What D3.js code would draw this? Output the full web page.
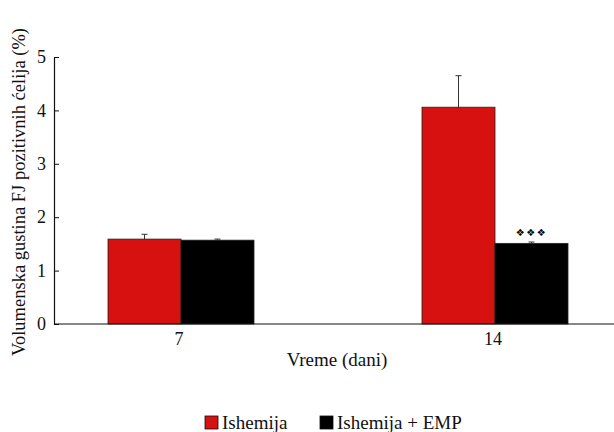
<!DOCTYPE html>
<html>
<head>
<meta charset="utf-8">
<script src="https://cdn.jsdelivr.net/npm/d3@7"></script>
</head>
<body style="margin:0">
<svg width="614" height="432" style="font-family: 'Liberation Serif', Tinos, 'Times New Roman', serif"></svg>
<script>
// Days after ischemia (x categories)
const days = ["7", "14"];
// Series names
const seriesNames = ["Ishemija", "Ishemija + EMP"];
// Mean volume density of FJ-positive cells (%)
const ishemija = [1.59, 4.06];
const ishemijaEmp = [1.57, 1.51];
// Upper error (SEM) values
const ishemijaErr = [0.09, 0.59];
const ishemijaEmpErr = [0.02, 0.025];
// Significance markers
const markers = ["", "❖❖❖"];
// Y axis ticks
const yTicks = [0, 1, 2, 3, 4, 5];

const colors = ["#d71010", "#000000"];

const svg = d3.select("svg");
const axisLeft = 54, axisRight = 614, yBottom = 324, yTop = 57;

const x = d3.scaleBand().domain(days).range([24, 652]).padding(0);
const xs = d3.scaleBand().domain(seriesNames).range([-73, 73]);
const y = d3.scaleLinear().domain([0, 5]).range([yBottom, yTop]);

const rows = days.map((d, i) => ({
  day: d,
  marker: markers[i],
  bars: [
    { s: seriesNames[0], v: ishemija[i], e: ishemijaErr[i], c: colors[0] },
    { s: seriesNames[1], v: ishemijaEmp[i], e: ishemijaEmpErr[i], c: colors[1] }
  ]
}));

// Y axis with inward ticks; labels inherit the serif face from the svg
const yAxis = svg.append("g")
  .attr("transform", `translate(${axisLeft},0)`)
  .call(d3.axisLeft(y).tickValues(yTicks).tickFormat(d3.format("d"))
    .tickSizeInner(-5).tickSizeOuter(0).tickPadding(8));
yAxis.attr("font-family", null).attr("font-size", 18);
yAxis.select(".domain").attr("stroke", "#111").attr("stroke-width", 1.2);
yAxis.selectAll(".tick line").attr("stroke", "#111");
yAxis.selectAll(".tick text").attr("fill", "#111");

// Bars
const groups = svg.append("g").selectAll("g").data(rows).join("g")
  .attr("transform", d => `translate(${x(d.day) + x.bandwidth() / 2},0)`);

groups.selectAll("rect.bar").data(d => d.bars).join("rect")
  .attr("class", "bar")
  .attr("x", b => xs(b.s))
  .attr("width", xs.bandwidth())
  .attr("y", b => y(b.v))
  .attr("height", b => y(0) - y(b.v))
  .attr("fill", b => b.c)
  .attr("stroke", "#222")
  .attr("stroke-width", 0.8);

// Error bars (upper only)
groups.selectAll("g.err").data(d => d.bars).join("g")
  .attr("class", "err")
  .each(function (b) {
    const cx = xs(b.s) + xs.bandwidth() / 2;
    const g = d3.select(this);
    g.append("line").attr("x1", cx).attr("x2", cx).attr("y1", y(b.v)).attr("y2", y(b.v + b.e))
      .attr("stroke", "#333").attr("stroke-width", 1);
    g.append("line").attr("x1", cx - 3).attr("x2", cx + 3).attr("y1", y(b.v + b.e)).attr("y2", y(b.v + b.e))
      .attr("stroke", "#333").attr("stroke-width", 1);
  });

// Significance markers above the EMP bar
groups.append("text")
  .attr("x", xs(seriesNames[1]) + xs.bandwidth() / 2)
  .attr("y", d => y(d.bars[1].v + d.bars[1].e) - 6)
  .attr("text-anchor", "middle")
  .attr("font-size", 10)
  .attr("letter-spacing", 1.5)
  .attr("fill", "#000")
  .style("font-family", "'DejaVu Sans'")
  .text(d => d.marker);

// X axis line and category labels
svg.append("line")
  .attr("x1", axisLeft).attr("x2", axisRight)
  .attr("y1", yBottom).attr("y2", yBottom)
  .attr("stroke", "#111").attr("stroke-width", 1.2);

svg.append("g").selectAll("text").data(days).join("text")
  .attr("x", d => x(d) + x.bandwidth() / 2 - 2)
  .attr("y", yBottom + 21)
  .attr("text-anchor", "middle")
  .attr("font-size", 18)
  .attr("fill", "#111")
  .text(d => d);

// Axis titles
svg.append("text")
  .attr("x", 337).attr("y", 366)
  .attr("text-anchor", "middle")
  .attr("font-size", 19)
  .attr("fill", "#111")
  .text("Vreme (dani)");

svg.append("text")
  .attr("transform", "translate(25,192) rotate(-90)")
  .attr("text-anchor", "middle")
  .attr("font-size", 18.5)
  .attr("fill", "#111")
  .text("Volumenska gustina FJ pozitivnih ćelija (%)");

// Legend
const legend = svg.append("g").attr("transform", "translate(205,416)");
const legendX = [0, 115];
seriesNames.forEach((s, i) => {
  const g = legend.append("g").attr("transform", `translate(${legendX[i]},0)`);
  g.append("rect").attr("x", 0).attr("y", 0).attr("width", 13).attr("height", 13)
    .attr("fill", colors[i]).attr("stroke", "#111").attr("stroke-width", 0.8);
  g.append("text").attr("x", 17).attr("y", 13)
    .attr("font-size", 19).attr("fill", "#111")
    .text(s);
});
</script>
</body>
</html>
